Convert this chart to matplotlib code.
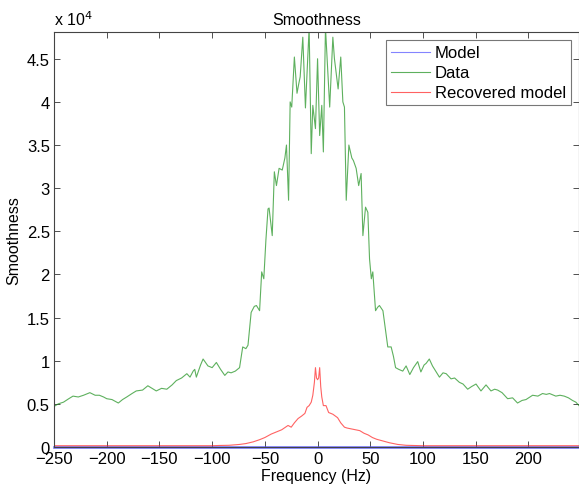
import matplotlib
matplotlib.use("Agg")
import matplotlib.pyplot as plt
from matplotlib.ticker import FuncFormatter

plt.rcParams["font.family"] = ["Liberation Sans", "DejaVu Sans"]

# values (y in plain units)
data_freq = [-250, -246, -241, -236, -232, -227, -222, -216, -211, -207, -203, -200,
             -195, -189, -185, -181, -176, -172, -166, -161, -157, -153, -148, -143,
             -138, -134, -129, -124, -121, -118, -116.5, -115, -111, -108.6, -104, -100,
             -96, -92, -88, -85, -82, -78, -74, -71, -68, -66, -63, -60, -58, -55, -53,
             -51, -49, -47, -46, -43, -41, -39, -36.5, -33.5, -31, -29.5, -27.5, -26,
             -24.5, -22, -19.5, -18, -16.5, -14, -11.5, -8, -6, -4.5, -2, 0, 2, 4, 5.5,
             7.5, 11.5, 14.5, 16, 19.5, 22, 24, 25.5, 27.2, 29.7, 32.5, 34, 36.6, 39,
             41.3, 43, 45.5, 47.7, 49.3, 51, 52.4, 55, 57, 58.7, 62, 64, 66.6, 69.8, 72,
             74, 77, 80.8, 84, 87.5, 91, 95, 98, 101, 103, 106, 109, 112, 115.6, 119,
             122, 126.6, 130, 134.5, 138, 142.4, 146, 150.3, 155, 159.8, 164.5, 168,
             170.8, 175, 180.3, 185, 189.7, 194, 197.7, 204, 209, 213.4, 217, 220, 226,
             230, 234, 238, 241.8, 245, 248]
data_vals = [4700, 5000, 5200, 5600, 5900, 5800, 6000, 6300, 6000, 6000, 5800, 5600,
             5500, 5100, 5500, 5800, 6200, 6500, 6600, 7100, 6800, 6500, 6800, 6700,
             7200, 7700, 8000, 8500, 8100, 8800, 9000, 8100, 9500, 10200, 9400, 9200,
             9800, 9000, 8300, 8700, 8600, 8800, 9200, 11600, 11400, 11800, 15600, 16300,
             16400, 15800, 20300, 19500, 24000, 27600, 27700, 24500, 31900, 30300, 32300,
             32100, 33500, 35000, 28600, 40000, 39400, 45200, 41000, 42000, 42900, 47500,
             39300, 48600, 34000, 39600, 36900, 45000, 36100, 39600, 34200, 48600, 39400,
             47500, 45000, 41500, 45200, 40000, 39400, 28600, 35000, 33500, 33200, 32300,
             30300, 31700, 24500, 27800, 27200, 21800, 19500, 20300, 15800, 16200, 16400,
             15800, 14000, 11600, 11600, 10500, 9200, 9000, 8800, 9400, 8400, 9200, 9900,
             8700, 9500, 9700, 10200, 9400, 8800, 8100, 8600, 8500, 7900, 8000, 7500,
             7300, 6700, 7000, 7300, 6500, 7200, 6500, 6700, 6600, 6300, 5600, 5700,
             5100, 5400, 5500, 6000, 5900, 6200, 6100, 6200, 5900, 6000, 5900, 5700,
             5400, 5200, 4800]

rec_freq = [-250, -150, -100, -93, -84, -74, -68, -61, -55, -50, -44, -38, -34, -28,
            -25, -22, -18.5, -15, -12, -10, -8, -6, -4.5, -3, -2, -1, 0, 1, 2, 3, 4,
            5.5, 8, 10.5, 14.5, 19, 22, 25.5, 28, 32, 36, 40, 44, 48, 52, 56, 62, 68,
            76, 84, 100, 150, 248]
rec_vals = [150, 150, 150, 180, 200, 300, 400, 600, 850, 1100, 1500, 1800, 2000, 2500,
            2300, 2800, 3300, 3600, 3900, 4600, 4800, 5200, 6000, 7500, 9200, 8000, 7800,
            8000, 9200, 7000, 5800, 4800, 4800, 4000, 3800, 3400, 2800, 2300, 2200, 2100,
            2000, 1900, 1600, 1400, 1100, 900, 700, 500, 300, 200, 150, 150, 150]

model_freq = [-250, 248]
model_vals = [0, 0]

fig = plt.figure(figsize=(5.79, 4.89), dpi=100)
ax = fig.add_axes([0.0933, 0.0838, 0.9067, 0.8487])

ax.plot(model_freq, model_vals, color="#5050ff", linewidth=2.0, alpha=0.7,
        clip_on=False, label="Model")
ax.plot(data_freq, data_vals, color="#1a8f1a", linewidth=0.8, alpha=0.7,
        label="Data")
ax.plot(rec_freq, rec_vals, color="#ff2020", linewidth=0.8, alpha=0.7,
        label="Recovered model")

ax.set_xlim(-250, 248)
ax.set_ylim(0, 48100)
ax.set_xticks(range(-250, 201, 50))
ax.set_yticks([i * 5000 for i in range(10)])
ax.yaxis.set_major_formatter(FuncFormatter(lambda v, p: f"{v / 1e4:g}"))
ax.tick_params(direction="in", top=True, right=True, labelsize=12, length=4,
               width=0.6, color="#333333", pad=3)
for s in ax.spines.values():
    s.set_linewidth(0.8)
    s.set_color("#444444")

ax.set_title("Smoothness", fontsize=11.5, pad=6)
ax.set_xlabel("Frequency (Hz)", fontsize=11.5, labelpad=1)
ax.set_ylabel("Smoothness", fontsize=11.5, labelpad=4)
ax.text(0.0, 1.01, "x 10$^4$", transform=ax.transAxes, fontsize=11.5,
        ha="left", va="bottom")

leg = ax.legend(loc="upper right", fontsize=12, frameon=True, fancybox=False,
                handlelength=2.3, borderpad=0.3, labelspacing=0.3,
                handletextpad=0.3, borderaxespad=0.5)
leg.get_frame().set_edgecolor("#555555")
leg.get_frame().set_linewidth(0.8)
leg.get_lines()[0].set_linewidth(0.8)

fig.savefig("out.png", dpi=100)
